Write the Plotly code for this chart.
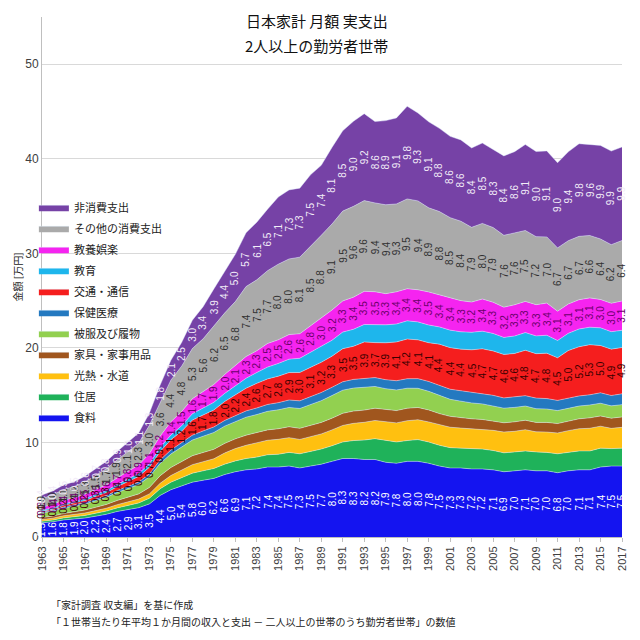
import numpy as np
import plotly.graph_objects as go

years = list(range(1963, 2018))

food = [1.5,1.6,1.8,1.9,2.0,2.2,2.4,2.7,2.9,3.1,3.5,4.4,5.0,5.4,5.8,6.0,6.2,6.6,6.9,7.1,7.2,7.4,7.4,7.5,7.3,
        7.5,7.7,8.0,8.3,8.3,8.2,8.2,7.9,7.8,8.0,8.0,7.8,7.5,7.3,7.3,7.2,7.2,7.1,6.9,7.0,7.1,7.0,7.0,6.8,7.0,
        7.1,7.1,7.4,7.5,7.5]
housing = [0.17,0.19,0.22,0.25,0.28,0.31,0.34,0.38,0.43,0.5,0.6,0.7,0.8,0.87,0.95,1.0,1.05,1.1,1.15,1.2,1.25,1.3,1.35,1.45,1.5,
           1.55,1.6,1.65,1.75,1.9,2.05,2.2,2.3,2.25,2.2,2.3,2.25,2.2,2.15,2.1,2.15,2.1,2.05,2.0,2.0,2.0,2.0,1.95,2.0,1.95,
           2.0,2.0,2.0,1.85,1.9]
utilities = [0.18,0.2,0.22,0.24,0.26,0.28,0.31,0.34,0.37,0.41,0.46,0.58,0.7,0.8,0.9,0.96,1.02,1.18,1.3,1.4,1.48,1.53,1.58,1.56,1.52,
             1.55,1.6,1.68,1.75,1.82,1.88,1.92,1.97,2.02,2.1,2.1,2.12,2.15,2.16,2.12,2.1,2.1,2.13,2.2,2.18,2.25,2.12,2.15,2.2,2.3,
             2.35,2.4,2.32,2.14,2.2]
furniture = [0.2,0.22,0.24,0.27,0.31,0.35,0.4,0.45,0.49,0.55,0.68,0.8,0.85,0.9,0.95,0.98,1.0,1.02,1.03,1.07,1.09,1.1,1.12,1.15,1.17,
             1.2,1.22,1.24,1.28,1.3,1.29,1.3,1.3,1.3,1.32,1.3,1.27,1.2,1.15,1.1,1.05,1.03,1.0,0.98,1.0,1.0,1.0,1.02,1.0,1.02,
             1.05,1.1,1.08,1.08,1.1]
clothing = [0.48,0.52,0.56,0.6,0.65,0.7,0.76,0.83,0.9,0.98,1.12,1.3,1.42,1.55,1.65,1.72,1.78,1.82,1.84,1.9,1.93,1.96,2.0,2.04,2.1,
            2.2,2.3,2.39,2.45,2.43,2.38,2.3,2.22,2.18,2.12,2.03,1.97,1.9,1.8,1.75,1.68,1.65,1.6,1.55,1.53,1.5,1.45,1.42,1.37,1.35,
            1.35,1.36,1.35,1.3,1.3]
health = [0.1,0.11,0.12,0.13,0.15,0.17,0.19,0.21,0.24,0.27,0.31,0.37,0.42,0.47,0.52,0.56,0.59,0.6,0.63,0.67,0.7,0.73,0.76,0.79,0.81,
          0.84,0.86,0.87,0.89,0.92,0.93,0.94,0.95,0.98,1.0,1.02,1.04,1.05,1.07,1.1,1.12,1.12,1.1,1.08,1.1,1.1,1.12,1.1,1.08,1.1,
          1.07,1.08,1.1,1.1,1.14]
transport = [0.1,0.1,0.2,0.2,0.2,0.3,0.3,0.4,0.5,0.6,0.7,0.9,1.1,1.2,1.6,1.7,1.8,2.0,2.2,2.4,2.6,2.7,2.8,2.9,3.0,
             3.1,3.2,3.3,3.5,3.5,3.9,3.7,3.9,4.1,4.2,4.1,4.1,4.4,4.4,4.4,4.5,4.7,4.7,4.6,4.6,4.8,4.7,4.8,4.5,5.0,
             5.2,5.3,5.0,4.9,4.9]
education = [0.12,0.13,0.14,0.16,0.18,0.2,0.22,0.24,0.27,0.3,0.35,0.42,0.5,0.58,0.66,0.74,0.8,0.86,0.95,1.05,1.15,1.25,1.35,1.42,1.5,
             1.57,1.63,1.68,1.75,1.8,1.85,1.88,1.9,1.9,1.92,1.9,1.87,1.82,1.85,1.83,1.85,1.87,1.85,1.8,1.85,1.87,1.88,1.9,1.83,1.82,
             1.88,1.85,1.87,1.85,1.82]
recreation = [0.3,0.4,0.4,0.4,0.5,0.5,0.6,0.7,0.8,0.9,1.1,1.2,1.4,1.5,1.6,1.7,1.9,2.0,2.1,2.3,2.3,2.5,2.5,2.6,2.6,
              2.8,3.0,3.2,3.3,3.4,3.5,3.5,3.3,3.4,3.4,3.4,3.5,3.4,3.4,3.3,3.2,3.4,3.3,3.2,3.3,3.3,3.3,3.4,3.1,3.1,
              3.1,3.1,3.0,3.0,3.1]
other = [0.9,1.0,1.1,1.2,1.3,1.5,1.7,1.9,2.1,2.3,3.0,3.6,4.4,4.8,5.3,5.6,6.2,6.5,6.8,7.4,7.5,7.7,8.0,8.0,8.1,
         8.5,8.8,9.1,9.5,9.6,9.6,9.4,9.4,9.3,9.5,9.4,8.9,8.8,8.5,8.4,7.9,8.0,7.9,7.6,7.6,7.5,7.2,7.0,6.7,6.7,
         6.7,6.6,6.4,6.2,6.4]
noncons = [0.4,0.4,0.5,0.5,0.6,0.7,0.8,0.9,1.0,1.1,1.3,1.8,2.1,2.5,3.0,3.4,3.9,4.4,5.0,5.7,6.1,6.5,7.1,7.3,7.3,
           7.5,7.4,8.1,8.5,9.0,9.2,8.6,8.9,9.1,9.8,9.3,9.1,8.8,8.6,8.6,8.4,8.5,8.3,8.4,8.6,9.1,9.0,9.1,9.0,9.4,
           9.8,9.6,9.9,9.9,9.9]

series_names = ["食料", "住居", "光熱・水道", "家具・家事用品", "被服及び履物", "保健医療",
                "交通・通信", "教育", "教養娯楽", "その他の消費支出", "非消費支出"]
series_values = [food, housing, utilities, furniture, clothing, health,
                 transport, education, recreation, other, noncons]
series_colors = ["#1414F0", "#1FB25A", "#FFC010", "#A0561E", "#92D050", "#2479C0",
                 "#F51E1E", "#1EB6EC", "#F524F0", "#AAAAAA", "#7642A6"]
# which series carry value labels, and label colours
label_colors = {0: "#FFFFFF", 6: "#3A0000", 8: "#6A006A", 9: "#303030", 10: "#F2ECF8"}

JP = "Noto Sans CJK JP"
fig = go.Figure()
n = len(series_names)
for i, (name, vals, col) in enumerate(zip(series_names, series_values, series_colors)):
    fig.add_trace(go.Scatter(
        x=years, y=vals, name=name, mode="lines", stackgroup="one", legendgroup=name,
        legendrank=n - i,
        line=dict(width=0.8, color="rgba(225,240,255,0.55)"),
        fillcolor=col, hoverinfo="x+y+name",
    ))

arr = np.array(series_values, dtype=float)
cum = np.cumsum(arr, axis=0)
annotations = []
for idx, fcol in label_colors.items():
    top = cum[idx]
    bottom = cum[idx - 1] if idx > 0 else np.zeros_like(top)
    mid = (top + bottom) / 2
    for yr, v, m in zip(years, series_values[idx], mid):
        annotations.append(dict(
            x=yr, y=m, xref="x", yref="y", text=f"{v:.1f}", showarrow=False,
            textangle=-90, font=dict(family="Liberation Sans, Arial", size=10, color=fcol),
        ))

# title (two lines)
annotations.append(dict(x=0.474, y=0.994, xref="paper", yref="paper", xanchor="center", yanchor="middle",
                        text="日本家計 月額 実支出", showarrow=False,
                        font=dict(family=JP, size=15, color="#111111")))
annotations.append(dict(x=0.474, y=0.946, xref="paper", yref="paper", xanchor="center", yanchor="middle",
                        text="2人以上の勤労者世帯", showarrow=False,
                        font=dict(family=JP, size=15, color="#111111")))

annotations.append(dict(x=0.012, y=-0.13, xref="paper", yref="paper", xanchor="left", yanchor="middle",
                        text="「家計調査 収支編」を基に作成", showarrow=False,
                        font=dict(family=JP, size=10, color="#222222")))
annotations.append(dict(x=0.012, y=-0.163, xref="paper", yref="paper", xanchor="left", yanchor="middle",
                        text="「１世帯当たり年平均１か月間の収入と支出 － 二人以上の世帯のうち勤労者世帯」の数値",
                        showarrow=False, font=dict(family=JP, size=10, color="#222222")))

fig.update_layout(
    width=640, height=640,
    margin=dict(l=42, r=12, t=17, b=103),
    paper_bgcolor="white", plot_bgcolor="white",
    showlegend=True,
    legend=dict(x=-0.014, y=0.662, xanchor="left", yanchor="top", traceorder="grouped",
                bgcolor="rgba(0,0,0,0)", font=dict(family=JP, size=11, color="#222222"),
                itemwidth=30, tracegroupgap=2),
    shapes=[dict(type="rect", xref="paper", yref="paper", x0=0.031, x1=0.184, y0=0.19, y1=0.655,
                 fillcolor="white", line=dict(width=0), layer="between")],
    annotations=annotations,
    hovermode=False,
)
fig.update_xaxes(range=[1963, 2017], tickmode="array", tickvals=years[::2],
                 ticktext=[str(y) for y in years[::2]], tickangle=-90,
                 tickfont=dict(family="Liberation Sans, Arial", size=11, color="#404040"),
                 ticks="outside", ticklen=4, tickcolor="#BFBFBF",
                 showline=True, linecolor="#BFBFBF", showgrid=False)
fig.update_yaxes(range=[0, 55], tickvals=[0, 10, 20, 30, 40, 50],
                 tickfont=dict(family="Liberation Sans, Arial", size=12, color="#404040"),
                 showline=True, linecolor="#BFBFBF", gridcolor="#D9D9D9", zeroline=False,
                 title=dict(text="金額 [万円]", font=dict(family=JP, size=10, color="#222222"), standoff=0))

fig.write_html("out.html")
